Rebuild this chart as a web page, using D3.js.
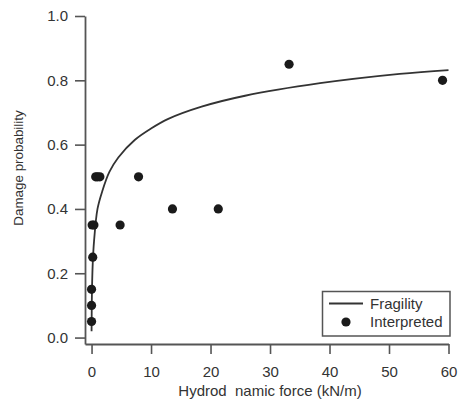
<!DOCTYPE html>
<html>
<head>
<meta charset="utf-8">
<script src="https://cdn.jsdelivr.net/npm/d3@7"></script>
<style>
  html, body { margin: 0; padding: 0; background: #fff; }
  svg text { font-family: "Liberation Sans", Arial, sans-serif; fill: #333; }
</style>
</head>
<body>
<svg id="chart" width="461" height="400"></svg>
<script>
// Fragility curve, sampled along its length
const curveForce = [0.005, 0.05, 0.1, 0.2, 0.42, 1, 1.8, 3, 4.5, 7.3, 10, 12.9, 18.5, 25.8, 38.4, 51.8, 60];
const curveProb  = [0.02, 0.12, 0.17, 0.23, 0.30, 0.40, 0.455, 0.515, 0.56, 0.615, 0.65, 0.68, 0.718, 0.752, 0.791, 0.82, 0.832];

// Interpreted damage observations
const obsForce = [0, 0, 0, 0.2, 0.1, 0.4, 4.8, 0.7, 1.0, 1.4, 7.9, 13.6, 21.3, 33.2, 59.0];
const obsProb  = [0.05, 0.10, 0.15, 0.25, 0.35, 0.35, 0.35, 0.5, 0.5, 0.5, 0.5, 0.40, 0.40, 0.85, 0.80];

const xTicks = [0, 10, 20, 30, 40, 50, 60];
const yTicks = [0.0, 0.2, 0.4, 0.6, 0.8, 1.0];
const xTitle = "Hydrod  namic force (kN/m)";
const yTitle = "Damage probability";
const legendLabels = ["Fragility", "Interpreted"];

const svg = d3.select("#chart");
const axisColor = "#555";

const x = d3.scaleLinear().domain([-1.1, 60]).range([85, 448.5]);
const y = d3.scaleLinear().domain([-0.02, 1.0]).range([344, 16]);

// Axes
const gx = svg.append("g").attr("transform", "translate(0,344)")
  .call(d3.axisBottom(x).tickValues(xTicks).tickFormat(d3.format("d"))
    .tickSizeInner(10).tickSizeOuter(0).tickPadding(12));
const gy = svg.append("g").attr("transform", "translate(85,0)")
  .call(d3.axisLeft(y).tickValues(yTicks).tickFormat(d3.format(".1f"))
    .tickSizeInner(10).tickSizeOuter(0).tickPadding(7));

[gx, gy].forEach(g => {
  g.select(".domain").attr("stroke", axisColor).attr("stroke-width", 1.8);
  g.selectAll(".tick line").attr("stroke", axisColor).attr("stroke-width", 1.6);
  g.selectAll(".tick text").attr("fill", "#333").style("font-size", "15px")
    .style("font-family", '"Liberation Sans", Arial, sans-serif');
});

// Axis titles
svg.append("text")
  .attr("x", 270).attr("y", 396)
  .attr("text-anchor", "middle")
  .style("font-size", "15px")
  .style("white-space", "pre")
  .text(xTitle);

svg.append("text")
  .attr("transform", "translate(23,168) rotate(-90)")
  .attr("text-anchor", "middle")
  .style("font-size", "13.4px")
  .text(yTitle);

// Fragility curve
const line = d3.line()
  .x(i => x(curveForce[i]))
  .y(i => y(curveProb[i]))
  .curve(d3.curveCatmullRom.alpha(0.5));

svg.append("path")
  .datum(d3.range(curveForce.length))
  .attr("d", line)
  .attr("fill", "none")
  .attr("stroke", "#333")
  .attr("stroke-width", 1.8);

// Observation dots
svg.append("g").selectAll("circle")
  .data(d3.range(obsForce.length))
  .join("circle")
  .attr("cx", i => x(obsForce[i]))
  .attr("cy", i => y(obsProb[i]))
  .attr("r", 4.6)
  .attr("fill", "#1a1a1a");

// Legend
const lg = svg.append("g");
lg.append("rect")
  .attr("x", 322.5).attr("y", 291.5).attr("width", 127.5).attr("height", 44.5)
  .attr("fill", "#fff").attr("stroke", axisColor).attr("stroke-width", 1.5);
lg.append("line")
  .attr("x1", 329).attr("x2", 363).attr("y1", 303.5).attr("y2", 303.5)
  .attr("stroke", "#333").attr("stroke-width", 1.8);
lg.append("circle").attr("cx", 346).attr("cy", 322).attr("r", 4.6).attr("fill", "#1a1a1a");
lg.selectAll("text.lbl")
  .data(legendLabels)
  .join("text")
  .attr("class", "lbl")
  .attr("x", 370)
  .attr("y", (d, i) => 309 + i * 18)
  .style("font-size", "15px")
  .text(d => d);
</script>
</body>
</html>
